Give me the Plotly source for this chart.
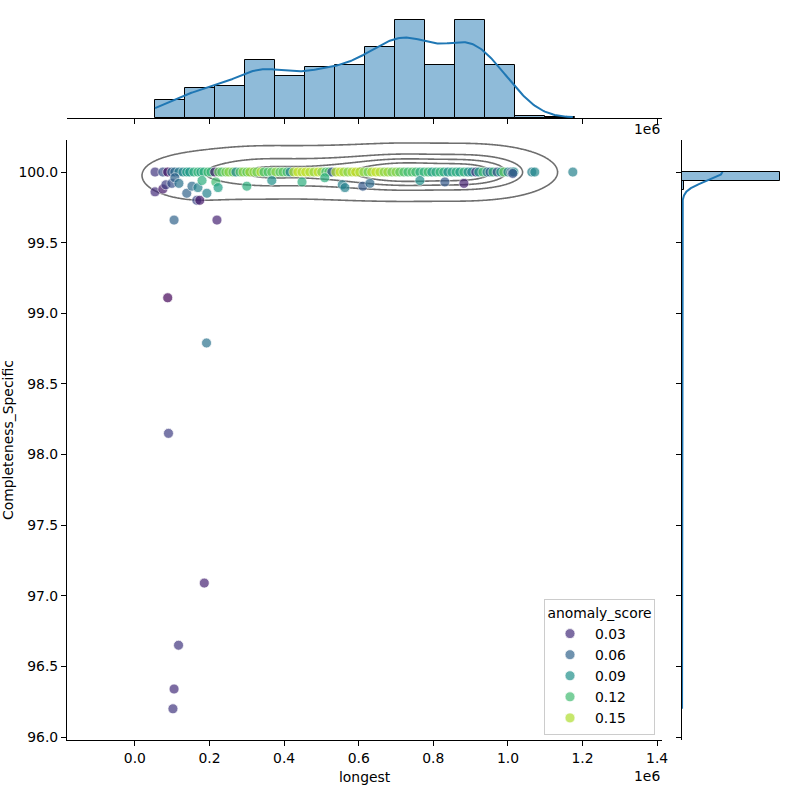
import numpy as np
import plotly.graph_objects as go
from plotly.colors import sample_colorscale

# ---------------- data (x in units of 1e6) ----------------
bin_edges = [0.054, 0.134, 0.215, 0.295, 0.376, 0.456, 0.536, 0.617, 0.697,
             0.778, 0.858, 0.938, 1.019, 1.099, 1.179]
bin_counts = [22, 36, 38, 70, 50, 61, 64, 85, 118, 64, 118, 64, 2, 1]

# points sitting on Completeness_Specific = 100.0 (visible ones)
row_x = [0.054, 0.075, 0.088, 0.099, 0.107, 0.118, 0.129, 0.139, 0.147, 0.158,
         0.169, 0.177, 0.185, 0.196, 0.204, 0.214, 0.225, 0.233, 0.244, 0.252,
         0.263, 0.271, 0.282, 0.290, 0.300, 0.308, 0.319, 0.327, 0.338, 0.346,
         0.357, 0.367, 0.378, 0.389, 0.397, 0.408, 0.416, 0.426, 0.437, 0.448,
         0.458, 0.469, 0.480, 0.491, 0.501, 0.512, 0.520, 0.528, 0.539, 0.550,
         0.560, 0.571, 0.582, 0.592, 0.603, 0.614, 0.625, 0.635, 0.646, 0.657,
         0.668, 0.678, 0.689, 0.700, 0.710, 0.721, 0.732, 0.743, 0.753, 0.764,
         0.775, 0.786, 0.796, 0.807, 0.818, 0.828, 0.839, 0.850, 0.861, 0.871,
         0.882, 0.893, 0.903, 0.914, 0.922, 0.933, 0.944, 0.952, 0.960, 0.971,
         0.981, 0.989, 1.000, 1.008, 1.012, 1.016, 1.064, 1.072, 1.174]
row_score = [0.035, 0.05, 0.015, 0.06, 0.065, 0.075, 0.085, 0.10, 0.095, 0.11,
             0.115, 0.105, 0.11, 0.12, 0.115, 0.02, 0.13, 0.125, 0.135, 0.14,
             0.13, 0.085, 0.125, 0.14, 0.13, 0.145, 0.14, 0.135, 0.15, 0.12,
             0.125, 0.13, 0.14, 0.125, 0.13, 0.12, 0.08, 0.15, 0.155, 0.15,
             0.155, 0.15, 0.145, 0.155, 0.14, 0.12, 0.125, 0.05, 0.15, 0.155,
             0.145, 0.14, 0.15, 0.155, 0.15, 0.14, 0.135, 0.15, 0.155, 0.15,
             0.14, 0.145, 0.135, 0.14, 0.13, 0.125, 0.12, 0.125, 0.12, 0.11,
             0.115, 0.12, 0.10, 0.11, 0.115, 0.11, 0.09, 0.105, 0.11, 0.10,
             0.115, 0.09, 0.085, 0.035, 0.10, 0.12, 0.075, 0.06, 0.115, 0.05,
             0.10, 0.13, 0.08, 0.06, 0.07, 0.09, 0.08, 0.085, 0.08]

# points below 100.0
off_x = [0.054, 0.075, 0.083, 0.099, 0.107, 0.118, 0.139, 0.153, 0.166, 0.169,
         0.174, 0.180, 0.193, 0.217, 0.223, 0.300, 0.367, 0.448, 0.509, 0.556,
         0.563, 0.611, 0.630, 0.764, 0.831, 0.882, 1.013, 0.105, 0.220, 0.088,
         0.192, 0.090, 0.186, 0.117, 0.105, 0.102]
off_y = [99.86, 99.88, 99.91, 99.92, 99.96, 99.92, 99.85, 99.90, 99.80, 99.89,
         99.80, 99.94, 99.85, 99.93, 99.89, 99.90, 99.94, 99.93, 99.96, 99.91,
         99.89, 99.90, 99.92, 99.94, 99.93, 99.92, 99.99, 99.66, 99.66, 99.11,
         98.79, 98.15, 97.09, 96.65, 96.34, 96.20]
off_score = [0.03, 0.02, 0.04, 0.05, 0.06, 0.07, 0.06, 0.065, 0.045, 0.08,
             0.02, 0.11, 0.08, 0.12, 0.10, 0.11, 0.09, 0.11, 0.11, 0.08,
             0.08, 0.055, 0.065, 0.09, 0.055, 0.025, 0.05, 0.06, 0.025, 0.012,
             0.07, 0.04, 0.025, 0.035, 0.03, 0.035]
row_y_value = 100.0

legend_values = [0.03, 0.06, 0.09, 0.12, 0.15]
score_range = [0.0092, 0.1692]
y_bin_count = 59
x_ticks = [0.0, 0.2, 0.4, 0.6, 0.8, 1.0, 1.2, 1.4]
x_ticktext = ["0.0", "0.2", "0.4", "0.6", "0.8", "1.0", "1.2", "1.4"]
y_ticks = [96.0, 96.5, 97.0, 97.5, 98.0, 98.5, 99.0, 99.5, 100.0]
y_ticktext = ["96.0", "96.5", "97.0", "97.5", "98.0", "98.5", "99.0", "99.5", "100.0"]
kde_levels = 5
kde_thresh = 0.05
# smoothing bandwidths (style parameters of the density estimates)
bw_x_1d, bw_y_1d = 0.058, 0.063
bw_x_2d, bw_y_2d = 0.07, 0.085

# ---------------- derived sample weights ----------------
edges = np.array(bin_edges)
nb = len(bin_counts)
rx = np.array(row_x); ox = np.array(off_x); oy = np.array(off_y)
row_bin = np.clip(np.searchsorted(edges, rx, side="right") - 1, 0, nb - 1)
off_bin = np.clip(np.searchsorted(edges, ox, side="right") - 1, 0, nb - 1)
row_w = np.zeros(len(rx))
for b in range(nb):
    m = row_bin == b
    rest = bin_counts[b] - np.sum(off_bin == b)
    if m.sum() > 0:
        row_w[m] = rest / m.sum()

sx = np.concatenate([rx, ox])
sy = np.concatenate([np.full(len(rx), row_y_value), oy])
sw = np.concatenate([row_w, np.ones(len(ox))])
N = sw.sum()
wn = sw / N


def kde1d(data, grid, bw):
    d = np.zeros_like(grid)
    for v, w in zip(data, wn):
        d += w * np.exp(-0.5 * ((grid - v) / bw) ** 2)
    return d / (np.sqrt(2 * np.pi) * bw)


def kde2d(gx, gy):
    d = np.zeros_like(gx)
    for xi, yi, w in zip(sx, sy, wn):
        d += w * np.exp(-0.5 * (((gx - xi) / bw_x_2d) ** 2 + ((gy - yi) / bw_y_2d) ** 2))
    return d / (2 * np.pi * bw_x_2d * bw_y_2d)


cx = np.linspace(sx.min() - 3 * bw_x_2d, sx.max() + 3 * bw_x_2d, 200)
cy = np.linspace(sy.min() - 3 * bw_y_2d, sy.max() + 3 * bw_y_2d, 200)
CX, CY = np.meshgrid(cx, cy)
coarse = kde2d(CX, CY)
vals = np.sort(coarse.ravel())[::-1]
cum = np.cumsum(vals) / vals.sum()
qs = np.linspace(kde_thresh, 1, kde_levels)[:-1]
levels = [vals[min(np.searchsorted(cum, 1 - q), len(vals) - 1)] for q in qs]

fx = np.linspace(-0.2, 1.45, 450)
fy = np.linspace(99.4, 100.5, 450)
FX, FY = np.meshgrid(fx, fy)
fine = kde2d(FX, FY)

# ---------------- figure ----------------
W = 800.0
def px_x(p): return p / W
def px_y(p): return 1 - p / W

FONT = "DejaVu Sans"
FS = 13.9
fig = go.Figure()

cmin, cmax = score_range
fig.add_trace(go.Scatter(
    x=list(rx) + list(ox), y=[row_y_value] * len(rx) + list(oy), mode="markers",
    marker=dict(color=list(row_score) + list(off_score), colorscale="Viridis",
                cmin=cmin, cmax=cmax, size=10, opacity=0.7,
                line=dict(color="white", width=0.75)),
    showlegend=False, hoverinfo="skip", xaxis="x", yaxis="y"))

for lv in levels:
    fig.add_trace(go.Contour(
        x=fx, y=fy, z=fine, autocontour=False,
        contours=dict(start=lv, end=lv, size=1, coloring="none"),
        line=dict(color="#6e6e6e", width=1.6), showscale=False,
        hoverinfo="skip", showlegend=False, xaxis="x", yaxis="y"))

for v in legend_values:
    c = sample_colorscale("Viridis", [(v - cmin) / (cmax - cmin)])[0]
    fig.add_trace(go.Scatter(
        x=[None], y=[None], mode="markers", name=f"{v:.2f}",
        marker=dict(color=c, size=10, opacity=0.7, line=dict(color="white", width=0.75)),
        xaxis="x", yaxis="y"))

centers = (edges[:-1] + edges[1:]) / 2
widths = np.diff(edges)
fig.add_trace(go.Bar(
    x=centers, y=bin_counts, width=widths,
    marker=dict(color="rgba(31,119,180,0.5)", line=dict(color="black", width=1)),
    showlegend=False, hoverinfo="skip", xaxis="x2", yaxis="y2"))
gx = np.linspace(sx.min(), sx.max(), 300)
kx = kde1d(sx, gx, bw_x_1d) * N * np.mean(widths)
fig.add_trace(go.Scatter(x=gx, y=kx, mode="lines", line=dict(color="#1f77b4", width=2),
                         showlegend=False, hoverinfo="skip", xaxis="x2", yaxis="y2"))

ycounts, yedges = np.histogram(sy, bins=y_bin_count, range=(sy.min(), sy.max()), weights=sw)
ycent = (yedges[:-1] + yedges[1:]) / 2
ybw = yedges[1] - yedges[0]
fig.add_trace(go.Bar(
    y=ycent, x=ycounts, width=ybw, orientation="h",
    marker=dict(color="rgba(31,119,180,0.5)", line=dict(color="black", width=1)),
    showlegend=False, hoverinfo="skip", xaxis="x3", yaxis="y3"))
gy = np.linspace(sy.min(), sy.max(), 3000)
ky = kde1d(sy, gy, bw_y_1d) * N * ybw
fig.add_trace(go.Scatter(x=ky, y=gy, mode="lines", line=dict(color="#1f77b4", width=2),
                         showlegend=False, hoverinfo="skip", xaxis="x3", yaxis="y3"))

axis_common = dict(showgrid=False, zeroline=False, showline=True, linecolor="black",
                   linewidth=1.1, ticks="outside", ticklen=5, tickwidth=1.1,
                   tickcolor="black", tickfont=dict(family=FONT, size=FS, color="black"),
                   automargin=False)

main_xd = [px_x(67), px_x(662)]
main_yd = [px_y(740), px_y(140)]
fig.update_layout(
    width=800, height=800, margin=dict(l=0, r=0, t=0, b=0),
    plot_bgcolor="white", paper_bgcolor="white",
    font=dict(family=FONT, size=FS, color="black"),
    bargap=0,
    xaxis=dict(domain=main_xd, range=[-0.182, 1.413], tickvals=x_ticks,
               ticktext=x_ticktext, anchor="y", **axis_common),
    yaxis=dict(domain=main_yd, range=[95.979, 100.227], tickvals=y_ticks,
               ticktext=y_ticktext, anchor="x", **axis_common),
    xaxis2=dict(domain=main_xd, matches="x", anchor="y2", tickvals=x_ticks,
                showticklabels=False, **axis_common),
    yaxis2=dict(domain=[px_y(118), px_y(15)], range=[0, max(bin_counts) * 1.05],
                anchor="x2", visible=False),
    xaxis3=dict(domain=[px_x(682), px_x(785)], range=[0, ycounts.max() * 1.05],
                anchor="y3", visible=False),
    yaxis3=dict(domain=main_yd, matches="y", anchor="x3", tickvals=y_ticks,
                showticklabels=False, **axis_common),
    legend=dict(x=px_x(655), xanchor="right", y=px_y(735), yanchor="bottom",
                bgcolor="rgba(255,255,255,0.8)", bordercolor="#cccccc", borderwidth=1,
                font=dict(family=FONT, size=FS, color="black"),
                title=dict(text="anomaly_score", side="top center",
                           font=dict(family=FONT, size=FS, color="black")),
                itemwidth=40, tracegroupgap=0),
    annotations=[
        dict(text="longest", x=(main_xd[0] + main_xd[1]) / 2, y=px_y(777),
             xref="paper", yref="paper", showarrow=False, xanchor="center", yanchor="middle",
             font=dict(family=FONT, size=FS)),
        dict(text="Completeness_Specific", x=px_x(8), y=(main_yd[0] + main_yd[1]) / 2,
             xref="paper", yref="paper", showarrow=False, textangle=-90,
             xanchor="center", yanchor="middle", font=dict(family=FONT, size=FS)),
        dict(text="1e6", x=px_x(662), y=px_y(776), xref="paper", yref="paper",
             showarrow=False, xanchor="right", yanchor="middle", font=dict(family=FONT, size=FS)),
        dict(text="1e6", x=px_x(662), y=px_y(129), xref="paper", yref="paper",
             showarrow=False, xanchor="right", yanchor="middle", font=dict(family=FONT, size=FS)),
    ],
)

fig.write_html("out.html")
